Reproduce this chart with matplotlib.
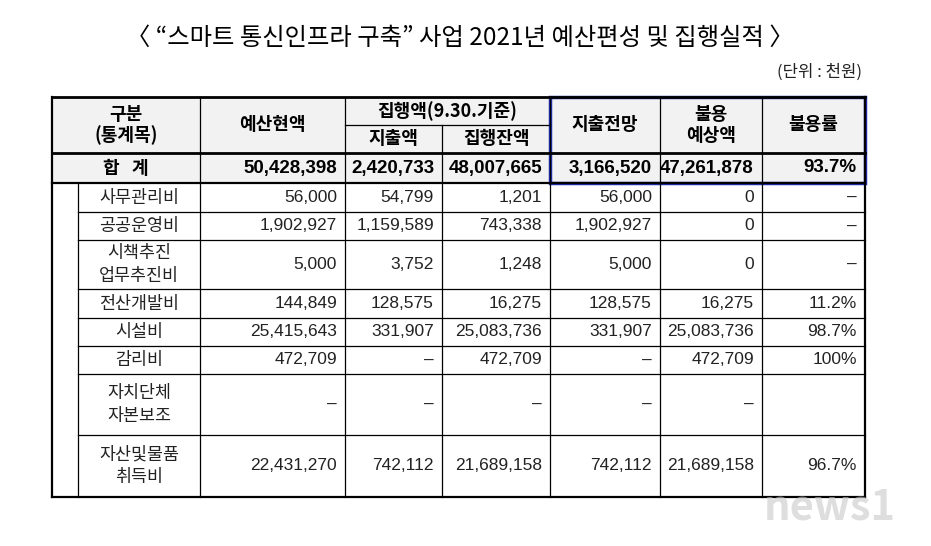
import matplotlib.pyplot as plt
from matplotlib.patches import Rectangle

plt.rcParams['font.family'] = ['Noto Sans CJK JP', 'Noto Sans CJK KR', 'Noto Sans CJK SC', 'DejaVu Sans']
num_font = 'Liberation Sans'

title = '〈 “스마트 통신인프라 구축” 사업 2021년 예산편성 및 집행실적 〉'
unit = '(단위 : 천원)'

total_label = '합   계'
total_values = ['50,428,398', '2,420,733', '48,007,665', '3,166,520', '47,261,878', '93.7%']

categories = ['사무관리비', '공공운영비', '시책추진\n업무추진비', '전산개발비', '시설비', '감리비',
              '자치단체\n자본보조', '자산및물품\n취득비']
budget = ['56,000', '1,902,927', '5,000', '144,849', '25,415,643', '472,709', '–', '22,431,270']
spent = ['54,799', '1,159,589', '3,752', '128,575', '331,907', '–', '–', '742,112']
remaining = ['1,201', '743,338', '1,248', '16,275', '25,083,736', '472,709', '–', '21,689,158']
forecast = ['56,000', '1,902,927', '5,000', '128,575', '331,907', '–', '–', '742,112']
unused = ['0', '0', '0', '16,275', '25,083,736', '472,709', '–', '21,689,158']
unused_rate = ['–', '–', '–', '11.2%', '98.7%', '100%', '', '96.7%']

# layout in pixels
col_x = [52, 200, 345, 442, 550, 660, 762, 865]
sub_x = 78
row_y = [97, 153, 183, 212, 240, 289, 318, 346, 374, 435, 497]
head_mid = 125

fig = plt.figure(figsize=(9.31, 5.46), dpi=100)
ax = fig.add_axes([0, 0, 1, 1])
ax.set_xlim(0, 931)
ax.set_ylim(546, 0)
ax.axis('off')

ax.text(460, 38, title, ha='center', va='center', fontsize=17.5)
ax.text(862, 72, unit, ha='right', va='center', fontsize=12, color='#222222')

# header background
ax.add_patch(Rectangle((col_x[0], row_y[0]), col_x[-1] - col_x[0], row_y[2] - row_y[0],
                       facecolor='#f2f2f2', edgecolor='none'))

lw = 0.9
# horizontal lines
ax.plot([col_x[0], col_x[-1]], [row_y[0]] * 2, color='black', lw=2)
ax.plot([col_x[2], col_x[4]], [head_mid] * 2, color='black', lw=lw)
ax.plot([col_x[0], col_x[-1]], [row_y[1]] * 2, color='black', lw=2)
ax.plot([col_x[0], col_x[-1]], [row_y[2]] * 2, color='black', lw=1.6)
for y in row_y[3:-1]:
    ax.plot([sub_x, col_x[-1]], [y, y], color='black', lw=lw)
ax.plot([col_x[0], col_x[-1]], [row_y[-1]] * 2, color='black', lw=1.6)

# vertical lines
ax.plot([col_x[0]] * 2, [row_y[0], row_y[-1]], color='black', lw=1.6)
ax.plot([col_x[-1]] * 2, [row_y[0], row_y[-1]], color='black', lw=1.6)
ax.plot([sub_x] * 2, [row_y[2], row_y[-1]], color='black', lw=lw)
for i, x in enumerate(col_x[1:-1], start=1):
    y0 = head_mid if i == 3 else row_y[0]
    ax.plot([x, x], [y0, row_y[-1]], color='black', lw=lw)

# header text
fs = 12.5
bold = dict(fontsize=13, fontweight='bold', ha='center', va='center')
ax.text((col_x[0] + col_x[1]) / 2, 125, '구분\n(통계목)', linespacing=1.1, **bold)
ax.text((col_x[1] + col_x[2]) / 2, 125, '예산현액', **bold)
ax.text((col_x[2] + col_x[4]) / 2, 111, '집행액(9.30.기준)', **bold)
ax.text((col_x[2] + col_x[3]) / 2, 139, '지출액', **bold)
ax.text((col_x[3] + col_x[4]) / 2, 139, '집행잔액', **bold)
ax.text((col_x[4] + col_x[5]) / 2, 125, '지출전망', **bold)
ax.text((col_x[5] + col_x[6]) / 2, 125, '불용\n예상액', linespacing=1.1, **bold)
ax.text((col_x[6] + col_x[7]) / 2, 125, '불용률', **bold)

# total row
ty = (row_y[1] + row_y[2]) / 2
ax.text((col_x[0] + col_x[1]) / 2, ty, total_label, **bold)
for j, v in enumerate(total_values):
    ax.text(col_x[j + 2] - 8, ty, v, fontsize=13.5, fontweight='bold', ha='right', va='center',
            family=num_font)

# body rows
columns = [budget, spent, remaining, forecast, unused, unused_rate]
for i, cat in enumerate(categories):
    y = (row_y[i + 2] + row_y[i + 3]) / 2
    ax.text((sub_x + col_x[1]) / 2, y, cat, fontsize=fs, ha='center', va='center',
            linespacing=1.3, color='#222222')
    for j, col in enumerate(columns):
        ax.text(col_x[j + 2] - 8, y, col[i], fontsize=12.5, ha='right', va='center',
                color='#222222', family=num_font)

# blue highlight box
ax.add_patch(Rectangle((col_x[4], row_y[0]), col_x[-1] - col_x[4], row_y[2] - row_y[0],
                       facecolor='none', edgecolor='#1f2fb0', lw=2.5))

# watermark
ax.text(830, 508, 'news1', fontsize=30, fontstyle='italic', fontweight='bold',
        color='#c8c8c8', alpha=0.6, ha='center', va='center')

fig.savefig('out.png', dpi=100)
